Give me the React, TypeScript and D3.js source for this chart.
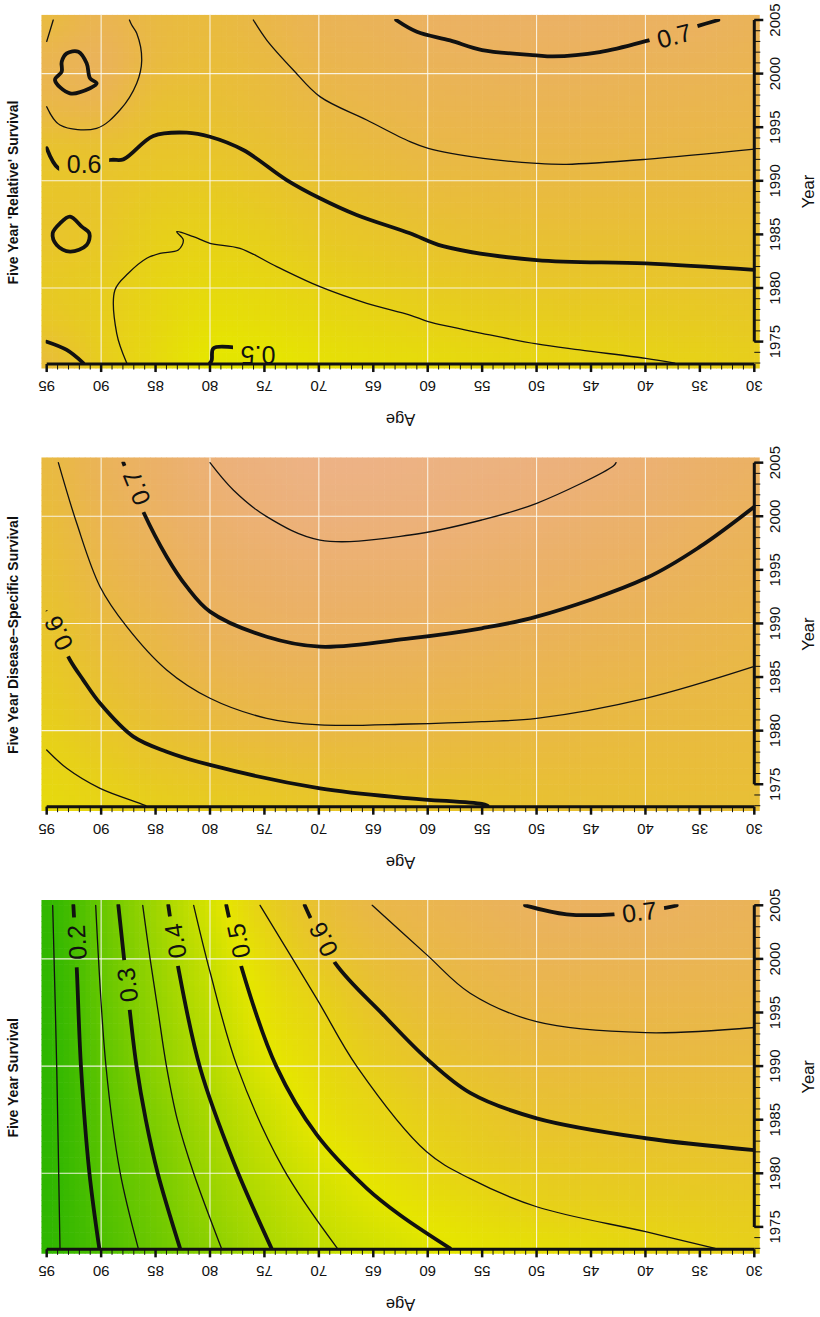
import React, { useEffect, useRef } from "react";
import * as d3 from "d3";

type Pt = [number, number];

const W = 820;
const H = 1317;

// ---- axes / grid definitions ----
const GRID_AGES = [30, 35, 40, 45, 50, 55, 60, 65, 70, 75, 80, 85, 90, 95];
const GRID_YEARS = [1973, 1977, 1981, 1985, 1989, 1993, 1997, 2001, 2005];
const AGE_TICKS = [95, 90, 85, 80, 75, 70, 65, 60, 55, 50, 45, 40, 35, 30];
const YEAR_TICKS = [1975, 1980, 1985, 1990, 1995, 2000, 2005];
const AGE_GRIDLINES = [90, 80, 70, 60, 50, 40];
const YEAR_GRIDLINES = [1980, 1990, 2000];
const TITLES = [
  "Five Year 'Relative' Survival",
  "Five Year Disease\u2013Specific Survival",
  "Five Year Survival",
];

// ---- surface values: rows = GRID_YEARS (1973..2005), columns = GRID_AGES (30..95) ----
const REL_ROWS = [
  [0.56, 0.551, 0.548, 0.543, 0.539, 0.533, 0.525, 0.52, 0.512, 0.498, 0.498, 0.53, 0.565, 0.62],
  [0.578, 0.573, 0.57, 0.567, 0.564, 0.558, 0.551, 0.542, 0.532, 0.522, 0.517, 0.538, 0.565, 0.585],
  [0.597, 0.595, 0.593, 0.591, 0.59, 0.584, 0.577, 0.566, 0.555, 0.541, 0.536, 0.546, 0.57, 0.578],
  [0.615, 0.614, 0.614, 0.614, 0.613, 0.609, 0.603, 0.591, 0.58, 0.563, 0.554, 0.56, 0.585, 0.595],
  [0.633, 0.634, 0.635, 0.636, 0.636, 0.632, 0.627, 0.614, 0.603, 0.586, 0.574, 0.577, 0.593, 0.59],
  [0.65, 0.652, 0.655, 0.657, 0.657, 0.654, 0.65, 0.637, 0.624, 0.607, 0.595, 0.595, 0.605, 0.6],
  [0.664, 0.668, 0.672, 0.676, 0.677, 0.674, 0.669, 0.659, 0.646, 0.626, 0.612, 0.612, 0.66, 0.652],
  [0.677, 0.686, 0.69, 0.696, 0.697, 0.694, 0.688, 0.675, 0.665, 0.64, 0.626, 0.638, 0.688, 0.672],
  [0.69, 0.702, 0.707, 0.712, 0.713, 0.71, 0.705, 0.69, 0.68, 0.656, 0.636, 0.643, 0.675, 0.64],
];
const DSS_ROWS = [
  [0.615, 0.615, 0.613, 0.612, 0.607, 0.599, 0.596, 0.591, 0.587, 0.578, 0.57, 0.56, 0.545, 0.53],
  [0.625, 0.626, 0.626, 0.627, 0.627, 0.625, 0.625, 0.623, 0.62, 0.612, 0.601, 0.588, 0.566, 0.545],
  [0.635, 0.638, 0.641, 0.645, 0.649, 0.65, 0.653, 0.653, 0.653, 0.648, 0.635, 0.615, 0.591, 0.561],
  [0.647, 0.652, 0.659, 0.664, 0.67, 0.674, 0.678, 0.68, 0.681, 0.675, 0.662, 0.637, 0.611, 0.577],
  [0.66, 0.668, 0.677, 0.684, 0.691, 0.697, 0.703, 0.705, 0.706, 0.701, 0.687, 0.657, 0.629, 0.592],
  [0.674, 0.683, 0.695, 0.703, 0.711, 0.717, 0.723, 0.725, 0.726, 0.719, 0.706, 0.676, 0.648, 0.607],
  [0.687, 0.699, 0.712, 0.721, 0.73, 0.737, 0.744, 0.745, 0.746, 0.737, 0.721, 0.695, 0.664, 0.619],
  [0.7, 0.713, 0.728, 0.738, 0.749, 0.756, 0.762, 0.765, 0.765, 0.754, 0.736, 0.71, 0.677, 0.63],
  [0.713, 0.725, 0.742, 0.756, 0.765, 0.77, 0.775, 0.78, 0.78, 0.768, 0.75, 0.72, 0.688, 0.64],
];
const SUR_ROWS = [
  [0.557, 0.548, 0.537, 0.527, 0.517, 0.506, 0.49, 0.466, 0.437, 0.393, 0.334, 0.271, 0.202, 0.133],
  [0.571, 0.567, 0.563, 0.558, 0.55, 0.531, 0.513, 0.489, 0.456, 0.41, 0.355, 0.283, 0.211, 0.13],
  [0.593, 0.59, 0.587, 0.582, 0.575, 0.561, 0.542, 0.515, 0.481, 0.433, 0.3725, 0.295, 0.221, 0.128],
  [0.612, 0.611, 0.609, 0.603, 0.6, 0.58, 0.56, 0.535, 0.506, 0.4535, 0.39, 0.311, 0.229, 0.127],
  [0.63, 0.63, 0.629, 0.626, 0.622, 0.606, 0.587, 0.556, 0.523, 0.479, 0.411, 0.333, 0.237, 0.128],
  [0.647, 0.6486, 0.6495, 0.647, 0.644, 0.629, 0.61, 0.578, 0.537, 0.5, 0.425, 0.344, 0.245, 0.13],
  [0.664, 0.666, 0.667, 0.666, 0.664, 0.651, 0.632, 0.605, 0.557, 0.513, 0.44, 0.354, 0.252, 0.132],
  [0.678, 0.682, 0.686, 0.685, 0.683, 0.668, 0.652, 0.627, 0.591, 0.531, 0.455, 0.364, 0.257, 0.135],
  [0.688, 0.695, 0.702, 0.704, 0.7, 0.686, 0.668, 0.651, 0.61, 0.555, 0.474, 0.375, 0.262, 0.135],
];

// ---- contour lines: [age, year] ----
const REL_C050: Pt[] = [[80.0, 1973], [79.84, 1973.28], [79.69, 1974.37], [77.86, 1974.47], [75.6, 1974.2], [74.3, 1973]];
const REL_C055: Pt[] = [[87.65, 1973], [88.57, 1975.77], [88.73, 1979.81], [87.5, 1981.37], [85.81, 1982.77], [84.59, 1983.24], [82.91, 1983.54], [82.45, 1984.48], [83.06, 1985.25], [81.53, 1984.79], [80.0, 1984.17], [77.24, 1983.7], [73.87, 1981.99], [69.9, 1980.12], [65.6, 1978.57], [61.63, 1977.48], [59.95, 1976.86], [57.95, 1976.39], [55.04, 1975.77], [49.99, 1974.78], [46.01, 1974.22], [39.98, 1973.44], [37.3, 1973]];
const REL_C060: Pt[] = [[95, 1993.03], [93.93, 1991.17], [92.3, 1990.8], [89.19, 1991.94], [87.96, 1992.0], [85.21, 1994.18], [82.14, 1994.49], [80.0, 1994.11], [76.94, 1992.87], [72.95, 1990.07], [69.9, 1988.37], [66.52, 1986.81], [61.63, 1985.1], [58.6, 1983.9], [50, 1982.6], [40, 1982.3], [30, 1981.7]];
const REL_C060_ISLE: Pt[] = [[92.86, 1986.65], [91.78, 1985.72], [91.08, 1985.1], [91.33, 1984.01], [92.86, 1983.39], [94.08, 1984.01], [94.45, 1985.1], [93.78, 1986.03]];
const REL_C060_CORNER: Pt[] = [[95, 1974.99], [93.16, 1974.22], [91.64, 1973]];
const REL_C065: Pt[] = [[76.02, 2005], [74.79, 2003.13], [72.35, 2000.34], [69.9, 1997.85], [65.6, 1995.67], [61.63, 1993.65], [59.95, 1993.03], [54.89, 1992.1], [49.99, 1991.63], [47.23, 1991.54], [39.98, 1992.0], [30, 1992.95]];
const REL_C065_ARC: Pt[] = [[95, 1996.91], [93.78, 1995.2], [90.41, 1994.9], [88.27, 1996.6], [86.73, 1999.1], [86.27, 2001.27], [86.73, 2003.76], [87.19, 2004.53], [87.4, 2005]];
const REL_C065_STUB: Pt[] = [[95, 2003], [94.4, 2005]];
const REL_C070: Pt[] = [[62.9, 2005], [61.0, 2003.9], [57.95, 2003.1], [55.0, 2002.2], [50, 2001.7], [48.5, 2001.6], [44.2, 2002.0], [39.7, 2003.1], [35.0, 2004.5], [33.3, 2005]];
const REL_C070_ISLE: Pt[] = [[93.62, 2001.11], [93.16, 2001.89], [92.09, 2002.04], [91.33, 2000.96], [91.02, 1999.56], [90.41, 1999.09], [91.02, 1998.63], [92.86, 1998.16], [94.24, 1999.4], [93.62, 2000.18]];

const DSS_C055: Pt[] = [[95, 1978.19], [93.16, 1976.49], [90.1, 1974.62], [86.43, 1973.22], [85.9, 1973]];
const DSS_C060: Pt[] = [[95, 1991.04], [94, 1989], [92.86, 1986.59], [91.64, 1984.72], [90.1, 1982.55], [87.04, 1979.44], [83.98, 1978.04], [80.0, 1976.8], [69.9, 1974.62], [61.63, 1973.69], [55.04, 1973.16], [54.5, 1973]];
const DSS_C065: Pt[] = [[93.93, 2005], [92.24, 1999.34], [90.1, 1993.43], [87.65, 1989.7], [83.98, 1985.66], [80.0, 1983.02], [74.79, 1981.15], [69.9, 1980.53], [61.63, 1980.62], [55.04, 1980.84], [49.99, 1981.15], [39.98, 1983.02], [30, 1986.0]];
const DSS_C070: Pt[] = [[87.96, 2005], [86.13, 2000.42], [83.98, 1996.23], [82.14, 1993.43], [80.0, 1991.1], [74.79, 1988.76], [69.9, 1987.83], [61.63, 1988.61], [55.04, 1989.55], [49.99, 1990.63], [39.98, 1994.21], [34.99, 1997.16], [30, 2000.89]];
const DSS_C075: Pt[] = [[80.0, 2005], [77.86, 2002.45], [74.79, 1999.96], [69.9, 1997.78], [61.63, 1998.25], [55.04, 1999.65], [49.99, 2001.21], [42.95, 2004.69], [42.7, 2005]];

const SUR_C015: Pt[] = [[94.45, 2005], [94.08, 1989.94], [93.78, 1973]];
const SUR_C020: Pt[] = [[92.55, 2005], [92.24, 1999.12], [91.85, 1989.94], [91.09, 1980.15], [90.17, 1973]];
const SUR_C025: Pt[] = [[90.5, 2005], [89.55, 1989.94], [88.27, 1980.15], [86.59, 1973]];
const SUR_C030: Pt[] = [[88.42, 2005], [87.35, 1995], [86.75, 1990], [85.9, 1985], [84.8, 1980], [82.75, 1973]];
const SUR_C035: Pt[] = [[86.18, 2005], [85.5, 2000], [84.75, 1995], [84.0, 1990], [83.0, 1985], [81.5, 1980], [78.95, 1973]];
const SUR_C040: Pt[] = [[83.83, 2005], [82.9, 1999.1], [80.9, 1989.8], [77.85, 1981.1], [74.35, 1973]];
const SUR_C045: Pt[] = [[81.5, 2005], [80.0, 1998.8], [77.5, 1989.95], [73.3, 1980.5], [68.3, 1973]];
const SUR_C050: Pt[] = [[78.5, 2005], [77.1, 1999.2], [73.9, 1989.95], [70.2, 1983.6], [65.6, 1978.6], [62.55, 1976.11], [57.95, 1973]];
const SUR_C055: Pt[] = [[75.4, 2005], [70.2, 1996.3], [66.5, 1989.95], [60.1, 1982.0], [56.1, 1979.5], [49.99, 1976.88], [39.98, 1974.55], [33.6, 1973]];
const SUR_C060: Pt[] = [[71.3, 2005], [68.5, 1999.6], [64.1, 1994.8], [60.1, 1990.7], [56.1, 1987.5], [49.99, 1985.13], [39.98, 1983.27], [30, 1982.17]];
const SUR_C065: Pt[] = [[65.1, 2005], [60.1, 2000.4], [56.1, 1996.8], [49.99, 1994.14], [39.98, 1993.12], [30, 1993.6]];
const SUR_C070: Pt[] = [[51.06, 2005], [47.23, 2004.16], [42.95, 2004.16], [38.05, 2004.78], [37.13, 2005]];

// contour labels: text, age, year, angle (deg)
const REL_LABELS = [
  { text: "0.6", age: 91.56, year: 1991.55, angle: 0 },
  { text: "0.7", age: 37.36, year: 2003.54, angle: -15 },
  { text: "0.5", age: 75.59, year: 1973.75, angle: 180 },
];
const DSS_LABELS = [
  { text: "0.6", age: 93.93, year: 1989.08, angle: -116 },
  { text: "0.7", age: 86.75, year: 2002.64, angle: -112 },
];
const SUR_LABELS = [
  { text: "0.2", age: 92.24, year: 2001.55, angle: -93 },
  { text: "0.3", age: 87.6, year: 1997.57, angle: -97 },
  { text: "0.4", age: 83.21, year: 2001.67, angle: -99 },
  { text: "0.5", age: 77.4, year: 2001.67, angle: -102 },
  { text: "0.6", age: 69.6, year: 2001.8, angle: -117 },
  { text: "0.7", age: 40.56, year: 2004.4, angle: -7 },
];

interface Contour { level: number; pts: Pt[]; closed?: boolean }

const PANELS: { title: string; rows: number[][]; contours: Contour[]; labels: typeof REL_LABELS }[] = [
  {
    title: TITLES[0],
    rows: REL_ROWS,
    contours: [
      { level: 0.5, pts: REL_C050 },
      { level: 0.55, pts: REL_C055 },
      { level: 0.6, pts: REL_C060 },
      { level: 0.6, pts: REL_C060_ISLE, closed: true },
      { level: 0.6, pts: REL_C060_CORNER },
      { level: 0.65, pts: REL_C065 },
      { level: 0.65, pts: REL_C065_ARC },
      { level: 0.65, pts: REL_C065_STUB },
      { level: 0.7, pts: REL_C070 },
      { level: 0.7, pts: REL_C070_ISLE, closed: true },
    ],
    labels: REL_LABELS,
  },
  {
    title: TITLES[1],
    rows: DSS_ROWS,
    contours: [
      { level: 0.55, pts: DSS_C055 },
      { level: 0.6, pts: DSS_C060 },
      { level: 0.65, pts: DSS_C065 },
      { level: 0.7, pts: DSS_C070 },
      { level: 0.75, pts: DSS_C075 },
    ],
    labels: DSS_LABELS,
  },
  {
    title: TITLES[2],
    rows: SUR_ROWS,
    contours: [
      { level: 0.15, pts: SUR_C015 },
      { level: 0.2, pts: SUR_C020 },
      { level: 0.25, pts: SUR_C025 },
      { level: 0.3, pts: SUR_C030 },
      { level: 0.35, pts: SUR_C035 },
      { level: 0.4, pts: SUR_C040 },
      { level: 0.45, pts: SUR_C045 },
      { level: 0.5, pts: SUR_C050 },
      { level: 0.55, pts: SUR_C055 },
      { level: 0.6, pts: SUR_C060 },
      { level: 0.65, pts: SUR_C065 },
      { level: 0.7, pts: SUR_C070 },
    ],
    labels: SUR_LABELS,
  },
];

// R terrain.colors, continuous, zlim [0,1]
function terrain(z: number): string {
  const t = Math.max(0, Math.min(1, z));
  let h: number, s: number, v: number;
  if (t <= 0.5) {
    const f = t / 0.5;
    h = 120 - 60 * f; s = 1; v = 0.65 + 0.25 * f;
  } else {
    const f = (t - 0.5) / 0.5;
    h = 60 - 60 * f; s = 1 - f; v = 0.9 + 0.05 * f;
  }
  const c = v * s;
  const hp = h / 60;
  const x = c * (1 - Math.abs((hp % 2) - 1));
  const m = v - c;
  let r = 0, g = 0;
  if (hp < 1) { r = c; g = x; } else { r = x; g = c; }
  return d3.rgb((r + m) * 255, (g + m) * 255, m * 255).formatHex();
}

function makeSampler(rows: number[][]) {
  const nA = GRID_AGES.length, nY = GRID_YEARS.length;
  const get = (i: number, j: number) =>
    rows[Math.max(0, Math.min(nY - 1, j))][Math.max(0, Math.min(nA - 1, i))];
  const cr = (p0: number, p1: number, p2: number, p3: number, t: number) =>
    0.5 * (2 * p1 + (-p0 + p2) * t + (2 * p0 - 5 * p1 + 4 * p2 - p3) * t * t + (-p0 + 3 * p1 - 3 * p2 + p3) * t * t * t);
  const ai = d3.scaleLinear().domain([GRID_AGES[0], GRID_AGES[nA - 1]]).range([0, nA - 1]).clamp(true);
  const yi = d3.scaleLinear().domain([GRID_YEARS[0], GRID_YEARS[nY - 1]]).range([0, nY - 1]).clamp(true);
  return (age: number, year: number) => {
    const fa = ai(age), fy = yi(year);
    const i = Math.min(nA - 2, Math.floor(fa)), j = Math.min(nY - 2, Math.floor(fy));
    const ta = fa - i, ty = fy - j;
    const col = (jj: number) => cr(get(i - 1, jj), get(i, jj), get(i + 1, jj), get(i + 2, jj), ta);
    return cr(col(j - 1), col(j), col(j + 1), col(j + 2), ty);
  };
}

const FONT = "'Liberation Sans', Arial, Helvetica, sans-serif";
const INK = "#111";

export default function App() {
  const ref = useRef<SVGSVGElement>(null);

  useEffect(() => {
    const svg = d3.select(ref.current);
    svg.selectAll("*").remove();
    const defs = svg.append("defs");
    const xAge = d3.scaleLinear().domain([95, 30]).range([46.7, 754.3]);

    PANELS.forEach((p, pi) => {
      const oy = pi * 442.65;
      const yYear = d3.scaleLinear().domain([2005, 1973]).range([20 + oy, 363.04 + oy]);
      const g = svg.append("g");

      // clip paths
      const fx0 = xAge(95.5), fx1 = xAge(29.5), fy0 = yYear(2005.5), fy1 = yYear(1972.5);
      defs.append("clipPath").attr("id", `fill${pi}`).append("rect")
        .attr("x", fx0).attr("y", fy0).attr("width", fx1 - fx0).attr("height", fy1 - fy0);
      const cx0 = xAge(95), cx1 = xAge(30), cy0 = yYear(2005), cy1 = yYear(1973);
      defs.append("clipPath").attr("id", `data${pi}`).append("rect")
        .attr("x", cx0 - 1).attr("y", cy0 - 1).attr("width", cx1 - cx0 + 2).attr("height", cy1 - cy0 + 2);

      // raster cells
      const sample = makeSampler(p.rows);
      const cells: { a: number; y: number; v: number }[] = [];
      for (let ia = 0; ia < 132; ia++) {
        for (let iy = 0; iy < 66; iy++) {
          const a = 29.5 + ia * 0.5, y = 1972.5 + iy * 0.5;
          cells.push({ a, y, v: sample(a + 0.25, y + 0.25) });
        }
      }
      g.append("g").attr("clip-path", `url(#fill${pi})`)
        .selectAll("rect").data(cells).join("rect")
        .attr("x", (d) => xAge(d.a + 0.5))
        .attr("y", (d) => yYear(d.y + 0.5))
        .attr("width", (d) => xAge(d.a) - xAge(d.a + 0.5) + 0.6)
        .attr("height", (d) => yYear(d.y) - yYear(d.y + 0.5) + 0.6)
        .attr("fill", (d) => terrain(d.v));

      // grid
      const grid = g.append("g").attr("stroke", "#fbf8ee").attr("stroke-width", 1.1).attr("stroke-opacity", 0.9);
      grid.selectAll("line.v").data(AGE_GRIDLINES).join("line").attr("class", "v")
        .attr("x1", (d) => xAge(d)).attr("x2", (d) => xAge(d)).attr("y1", fy0).attr("y2", fy1);
      grid.selectAll("line.h").data(YEAR_GRIDLINES).join("line").attr("class", "h")
        .attr("y1", (d) => yYear(d)).attr("y2", (d) => yYear(d)).attr("x1", fx0).attr("x2", fx1);

      // label mask
      const fs = 25;
      const mask = defs.append("mask").attr("id", `lbl${pi}`)
        .attr("maskUnits", "userSpaceOnUse").attr("x", 0).attr("y", 0).attr("width", W).attr("height", H);
      mask.append("rect").attr("x", 0).attr("y", 0).attr("width", W).attr("height", H).attr("fill", "white");
      mask.selectAll("rect.l").data(p.labels).join("rect").attr("class", "l")
        .attr("x", -25).attr("y", -13).attr("width", 50).attr("height", 26).attr("fill", "black")
        .attr("transform", (d) => `translate(${xAge(d.age)},${yYear(d.year)}) rotate(${d.angle})`);

      // contours
      const lineOpen = d3.line<Pt>().x((d) => xAge(d[0])).y((d) => yYear(d[1])).curve(d3.curveCatmullRom.alpha(0.5));
      const lineClosed = d3.line<Pt>().x((d) => xAge(d[0])).y((d) => yYear(d[1])).curve(d3.curveCatmullRomClosed.alpha(0.5));
      const cg = g.append("g").attr("clip-path", `url(#data${pi})`)
        .append("g").attr("mask", `url(#lbl${pi})`);
      cg.selectAll("path").data(p.contours).join("path")
        .attr("d", (d) => (d.closed ? lineClosed(d.pts) : lineOpen(d.pts)) as string)
        .attr("fill", "none")
        .attr("stroke", INK)
        .attr("stroke-linecap", "round")
        .attr("stroke-linejoin", "round")
        .attr("stroke-width", (d) => (Math.abs(d.level * 10 - Math.round(d.level * 10)) < 1e-6 ? 3.8 : 1.3));

      // contour labels
      g.append("g").selectAll("text").data(p.labels).join("text")
        .attr("transform", (d) => `translate(${xAge(d.age)},${yYear(d.year)}) rotate(${d.angle})`)
        .attr("text-anchor", "middle").attr("dy", "0.36em")
        .attr("font-family", FONT).attr("font-size", fs).attr("fill", INK)
        .text((d) => d.text);

      // age axis
      const ay = yYear(1973) + 1;
      const ax = g.append("g").attr("stroke", INK);
      ax.append("line").attr("x1", xAge(95)).attr("x2", xAge(30)).attr("y1", ay).attr("y2", ay).attr("stroke-width", 3);
      ax.selectAll("line.mn").data(d3.range(30, 96)).join("line").attr("class", "mn")
        .attr("x1", (d) => xAge(d)).attr("x2", (d) => xAge(d)).attr("y1", ay).attr("y2", ay + 5.5).attr("stroke-width", 1);
      ax.selectAll("line.mj").data(AGE_TICKS).join("line").attr("class", "mj")
        .attr("x1", (d) => xAge(d)).attr("x2", (d) => xAge(d)).attr("y1", ay).attr("y2", ay + 8).attr("stroke-width", 2.5);
      g.append("g").selectAll("text").data(AGE_TICKS).join("text")
        .attr("transform", (d) => `translate(${xAge(d)},${ay + 22.5}) rotate(180)`)
        .attr("text-anchor", "middle").attr("dy", "0.36em")
        .attr("font-family", FONT).attr("font-size", 15).attr("fill", INK)
        .text((d) => String(d));
      g.append("text")
        .attr("transform", `translate(${(xAge(95) + xAge(30)) / 2},${ay + 56}) rotate(180)`)
        .attr("text-anchor", "middle").attr("dy", "0.36em")
        .attr("font-family", FONT).attr("font-size", 16.5).attr("fill", INK)
        .text("Age");

      // year axis
      const yx = xAge(30);
      const yxg = g.append("g").attr("stroke", INK);
      yxg.append("line").attr("x1", yx).attr("x2", yx).attr("y1", yYear(2005)).attr("y2", yYear(1975)).attr("stroke-width", 3);
      yxg.selectAll("line.mn").data(d3.range(1973, 2006)).join("line").attr("class", "mn")
        .attr("y1", (d) => yYear(d)).attr("y2", (d) => yYear(d)).attr("x1", yx).attr("x2", yx + 6).attr("stroke-width", 1);
      yxg.selectAll("line.mj").data(YEAR_TICKS).join("line").attr("class", "mj")
        .attr("y1", (d) => yYear(d)).attr("y2", (d) => yYear(d)).attr("x1", yx).attr("x2", yx + 9).attr("stroke-width", 2.5);
      g.append("g").selectAll("text").data(YEAR_TICKS).join("text")
        .attr("transform", (d) => `translate(775,${yYear(d)}) rotate(-90)`)
        .attr("text-anchor", "middle").attr("dy", "0.36em")
        .attr("font-family", FONT).attr("font-size", 15).attr("fill", INK)
        .text((d) => String(d));
      g.append("text")
        .attr("transform", `translate(808,${yYear(1989)}) rotate(-90)`)
        .attr("text-anchor", "middle").attr("dy", "0.36em")
        .attr("font-family", FONT).attr("font-size", 16.5).attr("fill", INK)
        .text("Year");

      // title
      g.append("text")
        .attr("transform", `translate(12.5,${yYear(1989) + 1}) rotate(-90)`)
        .attr("text-anchor", "middle").attr("dy", "0.36em")
        .attr("font-family", FONT).attr("font-size", 14).attr("font-weight", "bold").attr("fill", INK)
        .text(p.title);
    });
  }, []);

  return (
    <svg
      ref={ref}
      width={W}
      height={H}
      style={{ position: "absolute", left: 0, top: 0, display: "block", background: "white" }}
    />
  );
}
